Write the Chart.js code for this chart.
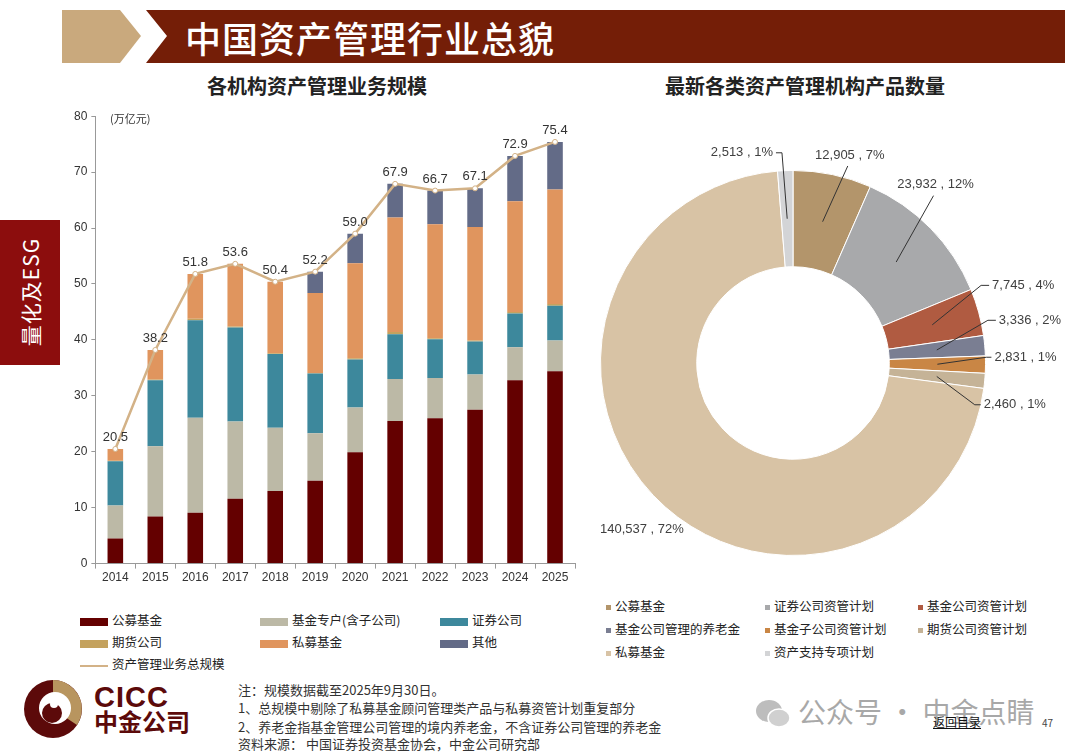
<!DOCTYPE html>
<html>
<head>
<meta charset="utf-8">
<script src="https://cdn.jsdelivr.net/npm/chart.js@4.4.1/dist/chart.umd.min.js"></script>
<style>
body{margin:0;width:1080px;height:755px;position:relative;background:#fff;overflow:hidden;color:#333;font-family:"Noto Sans CJK SC","Liberation Sans",sans-serif}
.abs{position:absolute}
#title{left:185px;top:15px;font-size:36px;font-weight:500;color:#fff;letter-spacing:1px;line-height:44px}
.sub{top:72px;font-size:20px;font-weight:700;color:#222;line-height:28px}
#tab{left:0;top:220px;width:60px;height:145px;background:#8c0d0d}
#tab span{position:absolute;left:30px;top:72px;transform:translate(-50%,-50%) rotate(-90deg);color:#fff;font-size:21px;white-space:nowrap;letter-spacing:1px}
#barWrap{left:60px;top:105px;width:525px;height:490px}
#pieWrap{left:590px;top:130px;width:480px;height:450px}
#unit{left:110px;top:110px;font-size:11px;color:#333}
.lg{position:absolute;font-size:12.5px;color:#222;line-height:16px;white-space:nowrap}
.lg i{display:inline-block;vertical-align:middle;margin-right:4px}
.note{left:238px;font-size:13px;color:#333;line-height:18px;white-space:nowrap}
</style>
</head>
<body>
<svg class="abs" style="left:0;top:0" width="1080" height="70">
  <polygon points="62,10 120,10 141,36 120,63 62,63" fill="#c9a97d"/>
  <polygon points="146,10 1065,10 1065,63 146,63 167,36" fill="#741e07"/>
</svg>
<div id="title" class="abs">中国资产管理行业总貌</div>
<div class="abs sub" style="left:207px">各机构资产管理业务规模</div>
<div class="abs sub" style="left:665px">最新各类资产管理机构产品数量</div>
<div id="tab" class="abs"><span>量化及ESG</span></div>

<div id="barWrap" class="abs"><canvas id="barChart"></canvas></div>
<div id="unit" class="abs">(万亿元)</div>
<div id="pieWrap" class="abs"><canvas id="pieChart"></canvas></div>
<div id="barLegend"></div>
<div id="pieLegend"></div>

<svg class="abs" style="left:20px;top:677px" width="70" height="66">
  <circle cx="33" cy="32" r="29" fill="#5c0a0a"/>
  <path d="M33 32 L33 3 A29 29 0 0 1 57 48 Z" fill="#b8955f"/>
  <circle cx="35" cy="31" r="16" fill="#fff"/>
  <circle cx="32" cy="36" r="10" fill="#5c0a0a"/>
  <circle cx="34" cy="27" r="4" fill="#fff"/>
</svg>
<div class="abs" style="left:94px;top:681px;font-family:'Liberation Sans',sans-serif;font-size:29px;font-weight:700;color:#5c0a0a;line-height:32px;letter-spacing:1px">CICC</div>
<div class="abs" style="left:94px;top:706px;font-size:24px;font-weight:700;color:#5c0a0a;line-height:30px">中金公司</div>

<div class="abs note" style="top:681px">注：规模数据截至2025年9月30日。</div>
<div class="abs note" style="top:699px">1、总规模中剔除了私募基金顾问管理类产品与私募资管计划重复部分</div>
<div class="abs note" style="top:718px">2、养老金指基金管理公司管理的境内养老金，不含证券公司管理的养老金</div>
<div class="abs note" style="top:735px">资料来源： 中国证券投资基金协会，中金公司研究部</div>

<svg class="abs" style="left:754px;top:697px" width="40" height="34">
  <ellipse cx="15" cy="14" rx="13" ry="11" fill="#bdbdbd"/>
  <ellipse cx="25" cy="21" rx="11" ry="9" fill="#d0d0d0" stroke="#fff" stroke-width="1.5"/>
</svg>
<div class="abs" style="left:798px;top:692px;font-size:28px;color:#a8a8a8;line-height:38px;white-space:nowrap">公众号 · 中金点睛</div>
<div class="abs" style="left:933px;top:714px;font-size:12px;color:#111;text-decoration:underline;line-height:16px">返回目录</div>
<div class="abs" style="left:1042px;top:716px;font-size:10px;color:#444;line-height:14px">47</div>

<script>
// 各机构资产管理业务规模（万亿元）
const years = ["2014", "2015", "2016", "2017", "2018", "2019", "2020", "2021", "2022", "2023", "2024", "2025"];
const gongmu = [4.5, 8.4, 9.1, 11.6, 13.0, 14.8, 19.9, 25.5, 26.0, 27.5, 32.8, 34.4];
const zhuanhu = [5.9, 12.6, 17.0, 13.8, 11.3, 8.5, 8.0, 7.5, 7.2, 6.3, 5.9, 5.5];
const quanshang = [7.9, 11.8, 17.4, 16.8, 13.2, 10.7, 8.6, 8.0, 6.9, 5.9, 6.0, 6.2];
const qihuo = [0.1, 0.1, 0.3, 0.2, 0.1, 0.1, 0.2, 0.4, 0.2, 0.2, 0.3, 0.3];
const simu = [2.1, 5.3, 8.0, 11.2, 12.8, 14.3, 17.0, 20.5, 20.4, 20.3, 19.8, 20.5];
const qita = [0, 0, 0, 0, 0, 3.8, 5.3, 6.0, 6.0, 6.9, 8.1, 8.5];
const total = [20.5, 38.2, 51.8, 53.6, 50.4, 52.2, 59.0, 67.9, 66.7, 67.1, 72.9, 75.4];
const yTicks = [0, 10, 20, 30, 40, 50, 60, 70, 80];

const barNames = ["公募基金", "基金专户(含子公司)", "证券公司", "期货公司", "私募基金", "其他"];
const barColors = ["#640000", "#bcb9a6", "#3d889c", "#c4a25e", "#e0955e", "#636b87"];
const lineName = "资产管理业务总规模";
const lineColor = "#d3b287";

// 最新各类资产管理机构产品数量
const productTypes = ["公募基金", "证券公司资管计划", "基金公司资管计划", "基金公司管理的养老金", "基金子公司资管计划", "期货公司资管计划", "私募基金", "资产支持专项计划"];
const productCounts = [12905, 23932, 7745, 3336, 2831, 2460, 140537, 2513];
const pieColors = ["#b3956b", "#a8a9ab", "#b05b41", "#7a7e92", "#c98645", "#c5b397", "#d8c3a5", "#d3d4d6"];

// label placement around the ring: angle shift (deg), extra radius, tail, text side
const pieLabelLayout = [
  {shift: 3.7, dr: 12, tail: 0, side: "top"},
  {shift: -5.6, dr: 26, tail: 0, side: "top"},
  {shift: -7.1, dr: 11, tail: 8, side: "right"},
  {shift: -7.2, dr: 7, tail: 8, side: "right"},
  {shift: -2.2, dr: 1, tail: 5, side: "right"},
  {shift: 7.6, dr: -6, tail: 6, side: "right"},
  {shift: -4.2, dr: 32, tail: 0, side: "none"},
  {shift: -0.7, dr: 18, tail: -6, side: "left"}
];

const numFont = "'Liberation Sans', Arial, sans-serif";

const totalLabels = {
  id: "totalLabels",
  afterDatasetsDraw(chart) {
    const ctx = chart.ctx;
    const meta = chart.getDatasetMeta(6);
    ctx.save();
    ctx.font = "13px " + numFont;
    ctx.fillStyle = "#333";
    ctx.textAlign = "center";
    ctx.textBaseline = "bottom";
    meta.data.forEach((pt, i) => {
      ctx.fillText(total[i].toFixed(1), pt.x, pt.y - 5);
    });
    ctx.restore();
  }
};

const barDatasets = barNames.map((name, i) => ({
  label: name,
  type: "bar",
  data: [gongmu, zhuanhu, quanshang, qihuo, simu, qita][i],
  backgroundColor: barColors[i],
  stack: "scale",
  barPercentage: 0.39,
  categoryPercentage: 1,
  order: 2
}));
barDatasets.push({
  label: lineName,
  type: "line",
  data: total,
  borderColor: lineColor,
  borderWidth: 2.5,
  pointRadius: 2.5,
  pointBackgroundColor: "#fff",
  pointBorderColor: lineColor,
  pointBorderWidth: 1,
  tension: 0,
  stack: "total",
  order: 1
});

new Chart(document.getElementById("barChart"), {
  type: "bar",
  data: {labels: years, datasets: barDatasets},
  options: {
    responsive: true,
    maintainAspectRatio: false,
    animation: false,
    layout: {padding: {left: 10, right: 10, top: 10, bottom: 8}},
    plugins: {legend: {display: false}, tooltip: {enabled: false}},
    scales: {
      x: {
        stacked: true,
        grid: {drawOnChartArea: false, drawTicks: true, tickLength: 5, color: "#999"},
        border: {color: "#999"},
        ticks: {color: "#333", font: {size: 12, family: numFont}, padding: 2}
      },
      y: {
        stacked: true,
        min: 0,
        max: 80,
        afterBuildTicks: (axis) => { axis.ticks = yTicks.map(v => ({value: v})); },
        grid: {drawOnChartArea: false, tickLength: 4, color: "#999"},
        border: {color: "#999"},
        ticks: {color: "#333", font: {size: 12, family: numFont}, padding: 4}
      }
    }
  },
  plugins: [totalLabels]
});

const pieTotal = productCounts.reduce((a, b) => a + b, 0);

const pieLabels = {
  id: "pieLabels",
  afterDatasetsDraw(chart) {
    const ctx = chart.ctx;
    const meta = chart.getDatasetMeta(0);
    ctx.save();
    ctx.font = "13px " + numFont;
    ctx.fillStyle = "#404040";
    ctx.strokeStyle = "#333";
    ctx.lineWidth = 1;
    meta.data.forEach((arc, i) => {
      const lay = pieLabelLayout[i];
      const mid = (arc.startAngle + arc.endAngle) / 2;
      const rIn = arc.innerRadius, rOut = arc.outerRadius;
      const rs = rIn + 0.5 * (rOut - rIn);
      const sx = arc.x + rs * Math.cos(mid), sy = arc.y + rs * Math.sin(mid);
      const ea = mid + lay.shift * Math.PI / 180;
      const er = rOut + lay.dr;
      const ex = arc.x + er * Math.cos(ea), ey = arc.y + er * Math.sin(ea);
      const pct = Math.round(productCounts[i] / pieTotal * 100);
      const txt = productCounts[i].toLocaleString("en-US") + " , " + pct + "%";
      if (lay.side !== "none") {
        ctx.beginPath();
        ctx.moveTo(sx, sy);
        ctx.lineTo(ex, ey);
        if (lay.tail) ctx.lineTo(ex + lay.tail, ey);
        ctx.stroke();
      }
      ctx.textBaseline = "middle";
      if (lay.side === "top") {
        ctx.textAlign = "center";
        ctx.fillText(txt, ex + 2, ey - 11);
      } else if (lay.side === "right") {
        ctx.textAlign = "left";
        ctx.fillText(txt, ex + lay.tail + 3, ey);
      } else if (lay.side === "left") {
        ctx.textAlign = "right";
        ctx.fillText(txt, ex + lay.tail - 3, ey);
      } else {
        ctx.textAlign = "center";
        ctx.fillText(txt, ex, ey);
      }
    });
    ctx.restore();
  }
};

new Chart(document.getElementById("pieChart"), {
  type: "doughnut",
  data: {
    labels: productTypes,
    datasets: [{data: productCounts, backgroundColor: pieColors, borderColor: "#fff", borderWidth: 1}]
  },
  options: {
    responsive: true,
    maintainAspectRatio: false,
    animation: false,
    cutout: "50%",
    layout: {padding: {left: 10, right: 84, top: 40, bottom: 24}},
    plugins: {legend: {display: false}, tooltip: {enabled: false}}
  },
  plugins: [pieLabels]
});

// legends
function addLegend(parentId, html, left, top) {
  const d = document.createElement("div");
  d.className = "lg";
  d.style.left = left + "px";
  d.style.top = top + "px";
  d.innerHTML = html;
  document.getElementById(parentId).appendChild(d);
}
barNames.forEach((name, n) => {
  const col = n % 3, row = Math.floor(n / 3);
  addLegend("barLegend",
    '<i style="width:28px;height:8px;background:' + barColors[n] + '"></i>' + name,
    80 + col * 180, 612 + row * 22);
});
addLegend("barLegend",
  '<i style="width:28px;height:2px;background:' + lineColor + '"></i>' + lineName,
  80, 656);

const pieLegendCols = [606, 765, 918];
productTypes.forEach((name, n) => {
  const col = n % 3, row = Math.floor(n / 3);
  addLegend("pieLegend",
    '<i style="width:5px;height:5px;background:' + pieColors[n] + '"></i>' + name,
    pieLegendCols[col], 598 + row * 23);
});
</script>
</body>
</html>
